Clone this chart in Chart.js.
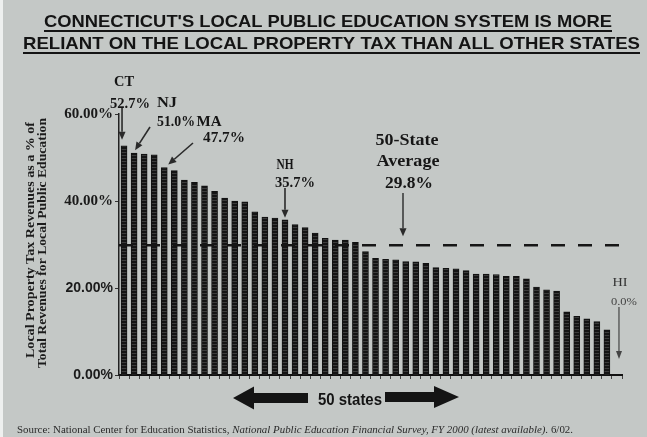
<!DOCTYPE html>
<html><head><meta charset="utf-8">
<script src="https://cdn.jsdelivr.net/npm/chart.js@4.4.0/dist/chart.umd.min.js"></script>
<style>html,body{margin:0;padding:0;background:#c4c8c6;}canvas{display:block;}</style>
</head><body>
<canvas id="c" width="647" height="437"></canvas>
<script>
// ---- data ----
const categories = ['CT','NJ','3','4','MA','6','7','8','9','10','11','12','13','14','15','16','NH','18','19','20',
  '21','22','23','24','25','26','27','28','29','30','31','32','33','34','35','36','37','38','39','40',
  '41','42','43','44','45','46','47','48','49','HI'];
const shares = [52.7,51.0,50.8,50.6,47.7,47.0,44.8,44.3,43.5,42.2,40.7,40.0,39.8,37.5,36.3,36.1,35.7,34.6,33.9,32.6,
  31.4,31.0,31.0,30.5,28.4,26.8,26.6,26.5,26.1,26.0,25.7,24.7,24.5,24.4,24.0,23.2,23.2,23.1,22.7,22.7,
  22.1,20.2,19.6,19.3,14.5,13.5,12.9,12.3,10.4,0.0];
const yTicks = [0,20,40,60];
const stateAverage = 29.8;
const callouts = [
  {state:'CT', text:'52.7%'},
  {state:'NJ', text:'51.0%'},
  {state:'MA', text:'47.7%'},
  {state:'NH', text:'35.7%'},
  {state:'HI', text:'0.0%'}
];
const titleLines = ["CONNECTICUT'S LOCAL PUBLIC EDUCATION SYSTEM IS MORE","RELIANT ON THE LOCAL PROPERTY TAX THAN ALL OTHER STATES"];
const yTitleLines = ['Local Property Tax Revenues as a % of','Total Revenues for Local Public Education'];

// ---- helpers ----
const INK = '#161616';
function fitText(ctx, str, x, cy, w, font, color, align) {
  ctx.save();
  ctx.font = font; ctx.fillStyle = color || INK; ctx.textBaseline = 'middle'; ctx.textAlign = 'left';
  const m = ctx.measureText(str).width; const s = w / m;
  const x0 = (align === 'left') ? x : x - w / 2;
  ctx.translate(x0, cy); ctx.scale(s, 1); ctx.fillText(str, 0, 0);
  ctx.restore();
  return x0;
}
function arrow(ctx, x1, y1, x2, y2, color, lw, hl, hw) {
  const a = Math.atan2(y2 - y1, x2 - x1);
  const bx = x2 - hl * Math.cos(a), by = y2 - hl * Math.sin(a);
  ctx.save(); ctx.strokeStyle = color; ctx.fillStyle = color; ctx.lineWidth = lw;
  ctx.beginPath(); ctx.moveTo(x1, y1); ctx.lineTo(bx, by); ctx.stroke();
  ctx.beginPath(); ctx.moveTo(x2, y2);
  ctx.lineTo(bx + hw / 2 * Math.sin(a), by - hw / 2 * Math.cos(a));
  ctx.lineTo(bx - hw / 2 * Math.sin(a), by + hw / 2 * Math.cos(a));
  ctx.closePath(); ctx.fill(); ctx.restore();
}
function blockArrow(ctx, tailX, tipX, cy, shaftH, headH, headL) {
  const d = Math.sign(tipX - tailX); const baseX = tipX - d * headL;
  ctx.save(); ctx.fillStyle = '#141414'; ctx.beginPath();
  ctx.moveTo(tailX, cy - shaftH / 2); ctx.lineTo(baseX, cy - shaftH / 2); ctx.lineTo(baseX, cy - headH / 2);
  ctx.lineTo(tipX, cy); ctx.lineTo(baseX, cy + headH / 2); ctx.lineTo(baseX, cy + shaftH / 2);
  ctx.lineTo(tailX, cy + shaftH / 2); ctx.closePath(); ctx.fill(); ctx.restore();
}
function barPattern() {
  const c = document.createElement('canvas'); c.width = 1; c.height = 3;
  const g = c.getContext('2d');
  g.fillStyle = '#141414'; g.fillRect(0, 0, 1, 3);
  g.fillStyle = '#3c3c3c'; g.fillRect(0, 2, 1, 1);
  return g.createPattern(c, 'repeat');
}

const SERIF_B = (px) => 'bold ' + px + 'px "Liberation Serif", "DejaVu Serif", serif';
const SANS_B = (px) => 'bold ' + px + 'px "Liberation Sans", Arial, sans-serif';

const decor = {
  id: 'decor',
  beforeDraw(chart) {
    const ctx = chart.ctx;
    ctx.save(); ctx.fillStyle = '#c4c8c6'; ctx.fillRect(0, 0, chart.width, chart.height);
    ctx.fillStyle = '#eef0ef'; ctx.fillRect(0, 0, 3, chart.height); ctx.restore();
  },
  afterDatasetsDraw(chart) {
    const ctx = chart.ctx, xs = chart.scales.x, ys = chart.scales.y, ca = chart.chartArea;
    // 50-state average dashed line
    const yAvg = ys.getPixelForValue(stateAverage);
    ctx.save(); ctx.strokeStyle = INK; ctx.lineWidth = 2.5; ctx.setLineDash([14, 13]);
    ctx.beginPath(); ctx.moveTo(ca.left, yAvg); ctx.lineTo(ca.right, yAvg); ctx.stroke(); ctx.restore();

    const bx = (st) => xs.getPixelForValue(categories.indexOf(st));
    const by = (st) => ys.getPixelForValue(shares[categories.indexOf(st)]);
    const co = (st) => callouts.find(c => c.state === st);
    // CT
    fitText(ctx, 'CT', bx('CT'), 82, 20, SERIF_B(14));
    fitText(ctx, co('CT').text, 130, 104, 40, SERIF_B(14));
    arrow(ctx, bx('CT') - 2, 108, bx('CT') - 2, by('CT') - 6, '#2a2a2a', 1.6, 8, 7);
    // NJ
    fitText(ctx, 'NJ', 167, 103, 20, SERIF_B(14));
    fitText(ctx, co('NJ').text, 176, 122, 38, SERIF_B(14));
    arrow(ctx, 150, 127, bx('NJ') + 1, by('NJ') - 3, '#2a2a2a', 1.6, 8, 7);
    // MA
    fitText(ctx, 'MA', 209, 122, 25, SERIF_B(14));
    fitText(ctx, co('MA').text, 224, 138, 42, SERIF_B(14));
    arrow(ctx, 193, 143, bx('MA') + 4, by('MA') - 3, '#2a2a2a', 1.6, 8, 7);
    // NH
    fitText(ctx, 'NH', 285, 165, 17, SERIF_B(14));
    fitText(ctx, co('NH').text, 295, 183, 40, SERIF_B(14));
    arrow(ctx, bx('NH'), 188, bx('NH'), by('NH') - 2, '#2a2a2a', 1.6, 8, 7);
    // average
    fitText(ctx, '50-State', 407, 141, 63, SERIF_B(16));
    fitText(ctx, 'Average', 408, 162, 63, SERIF_B(16));
    fitText(ctx, stateAverage.toFixed(1) + '%', 409, 184, 48, SERIF_B(16));
    arrow(ctx, 403, 193, 403, yAvg - 9, '#2a2a2a', 1.4, 8, 7);
    // HI
    fitText(ctx, 'HI', 620, 283, 15, '13px "Liberation Serif", serif', '#333');
    fitText(ctx, co('HI').text, 624, 302, 26, '11px "Liberation Serif", serif', '#444');
    arrow(ctx, bx('HI') + 2, 307, bx('HI') + 2, ys.getPixelForValue(0) - 16, '#444', 1.2, 8, 6);
  },
  afterDraw(chart) {
    const ctx = chart.ctx;
    // title
    let x0 = fitText(ctx, titleLines[0], 328, 22, 568, SANS_B(17), '#141414');
    ctx.fillStyle = '#141414'; ctx.fillRect(x0, 30, 568, 2);
    x0 = fitText(ctx, titleLines[1], 331.5, 44, 617, SANS_B(17), '#141414');
    ctx.fillStyle = '#141414'; ctx.fillRect(x0, 52, 617, 2);
    // y title (rotated)
    [[yTitleLines[0], 31, 240, 236], [yTitleLines[1], 43, 243, 250]].forEach(([t, cx, cy, w]) => {
      ctx.save(); ctx.translate(cx, cy); ctx.rotate(-Math.PI / 2);
      fitText(ctx, t, 0, 0, w, SERIF_B(12), '#1c1c1c'); ctx.restore();
    });
    // 50 states arrows
    blockArrow(ctx, 308, 233, 398, 10, 23, 21);
    fitText(ctx, '50 states', 350, 401, 64, SANS_B(16), '#141414');
    blockArrow(ctx, 385, 459, 397, 10, 22, 25);
    // source
    const parts = [
      ['Source: National Center for Education Statistics, ', '10px "Liberation Serif", serif'],
      ['National Public Education Financial Survey, FY 2000 (latest available).', 'italic 10px "Liberation Serif", serif'],
      [' 6/02.', '10px "Liberation Serif", serif']
    ];
    ctx.save(); let total = 0;
    parts.forEach(p => { ctx.font = p[1]; total += ctx.measureText(p[0]).width; });
    const s = 556 / total; ctx.translate(17, 430); ctx.scale(s, 1);
    ctx.fillStyle = '#2a2a2a'; ctx.textBaseline = 'middle'; let x = 0;
    parts.forEach(p => { ctx.font = p[1]; ctx.fillText(p[0], x, 0); x += ctx.measureText(p[0]).width; });
    ctx.restore();
  }
};

new Chart(document.getElementById('c'), {
  type: 'bar',
  data: {
    labels: categories,
    datasets: [{
      data: shares,
      backgroundColor: barPattern(),
      borderColor: '#111',
      borderWidth: 1,
      barThickness: 6,
      borderSkipped: 'bottom'
    }]
  },
  options: {
    responsive: false,
    animation: false,
    devicePixelRatio: 1,
    layout: { padding: { top: 114, right: 25, left: 0, bottom: 0 } },
    plugins: { legend: { display: false }, tooltip: { enabled: false }, title: { display: false } },
    scales: {
      x: {
        offset: true,
        ticks: { display: false },
        grid: { display: true, drawOnChartArea: false, drawTicks: true, tickLength: 4, color: '#444', lineWidth: 1, offset: true },
        border: { display: true, color: '#111', width: 2 },
        afterFit: (s) => { s.height = 62; }
      },
      y: {
        min: 0, max: 60,
        afterBuildTicks: (s) => { s.ticks = yTicks.map(v => ({ value: v })); },
        ticks: {
          padding: 2,
          color: '#1a1a1a',
          callback: (v) => Number(v).toFixed(2) + '%',
          font: (c) => (c.tick && c.tick.value >= 40)
            ? { family: '"Liberation Serif", serif', size: 15, weight: 'bold' }
            : { family: '"Liberation Sans", Arial, sans-serif', size: 14, weight: 'bold' }
        },
        grid: { display: true, drawOnChartArea: false, drawTicks: true, tickLength: 4, color: '#333', lineWidth: 1 },
        border: { display: true, color: '#222', width: 1.5 },
        afterFit: (s) => { s.width = 119; }
      }
    }
  },
  plugins: [decor]
});
</script>
</body></html>
